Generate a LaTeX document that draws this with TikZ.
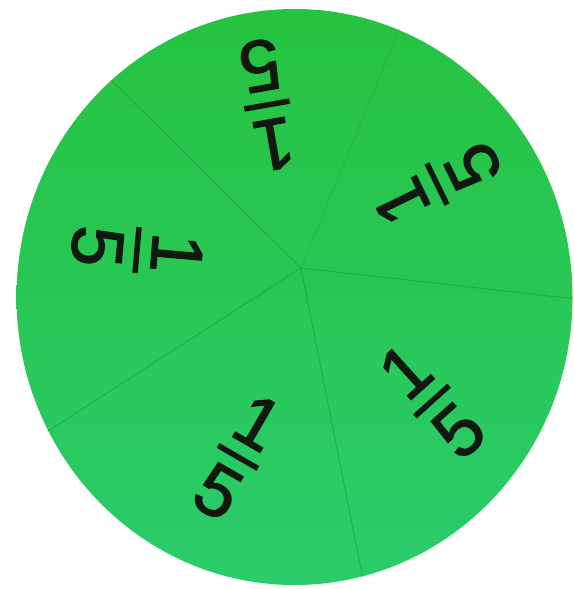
\documentclass[tikz,border=0pt]{standalone}
\usepackage{fontspec}
\setmainfont{Liberation Sans}
\newfontfamily\feltfont{Liberation Sans}[FakeBold=1.6]
\usetikzlibrary{calc}
\definecolor{feltop}{RGB}{38,195,64}
\definecolor{felmid}{RGB}{46,212,98}
\definecolor{felbot}{RGB}{43,204,108}
\definecolor{seamgreen}{RGB}{26,140,56}
\definecolor{inkblack}{RGB}{16,24,18}

\tikzset{
  seam/.style={seamgreen,line width=0.9pt,opacity=0.5},
  faintseam/.style={seam,opacity=0.25},
  digit/.style={inkblack,inner sep=0pt,font=\feltfont\fontsize{73}{73}\selectfont},
  fracbar/.style={inkblack,line width=5.5pt,line cap=butt},
}

% one "1/5" label: name, centre, angle
\newcommand\fifthlabel[3]{%
  \begin{scope}[shift={#2},rotate=#3,transform shape]
    \node[digit] (#1num) at (0,-40) {1};
    \node[digit] (#1den) at (0,40) {5};
    \coordinate (#1l) at (-23,0);
    \coordinate (#1r) at (23,0);
    \draw[fracbar] (#1l) -- (#1r);
  \end{scope}}

\begin{document}
\begin{tikzpicture}[x=1pt,y=-1pt,line cap=round]
  \useasboundingbox[fill=white] (0,0) rectangle (573,589);

  % the disc
  \coordinate (disc) at (294.5,297);
  \shade[top color=feltop,middle color=felmid,bottom color=felbot]
    (disc) ellipse [x radius=278,y radius=288];

  % seams between the five pieces
  \coordinate (hub)  at (301,268);
  \coordinate (rim1) at (108,77);
  \coordinate (rim2) at (401,25);
  \coordinate (rim3) at (576,299);
  \coordinate (rim4) at (364,584);
  \coordinate (rim5) at (45,433);
  \begin{scope}
    \clip (disc) ellipse [x radius=278,y radius=288];
    \foreach \r in {rim1,rim3,rim4,rim5}
      \draw[seam] (hub) -- (\r);
    \draw[faintseam] (hub) -- (rim2);
  \end{scope}

  % labels
  \fifthlabel{top}{(267,105)}{190}
  \fifthlabel{upr}{(437,184)}{116}
  \fifthlabel{lwr}{(432,401)}{42}
  \fifthlabel{bot}{(238,457)}{-30}
  \fifthlabel{lft}{(137,250)}{-95}
\end{tikzpicture}
\end{document}
